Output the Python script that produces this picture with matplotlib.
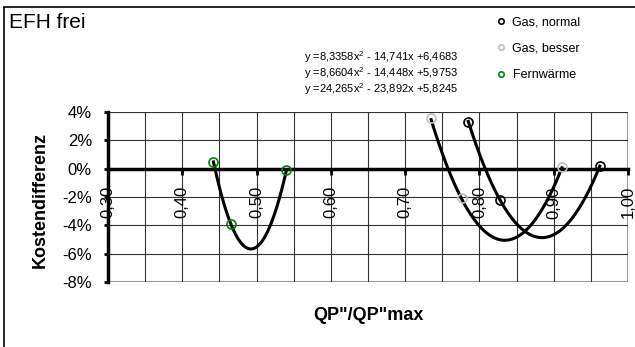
import numpy as np
import matplotlib
matplotlib.use("Agg")
import matplotlib.pyplot as plt
from matplotlib.ticker import MultipleLocator, FuncFormatter, PercentFormatter
from matplotlib.patches import Rectangle

plt.rcParams['font.family'] = ['Liberation Sans', 'DejaVu Sans']
plt.rcParams['mathtext.fontset'] = 'custom'
plt.rcParams['mathtext.rm'] = 'Liberation Sans'
plt.rcParams['mathtext.default'] = 'regular'
plt.rcParams['axes.unicode_minus'] = False

# data
series_names = ["Gas, normal", "Gas, besser", "Fernwärme"]
series_colors = ["black", "#c0c0c0", "#008000"]

gas_normal_x = [0.785, 0.828, 0.962]
gas_normal_y = [0.033, -0.022, 0.002]
gas_besser_x = [0.735, 0.776, 0.911]
gas_besser_y = [0.036, -0.021, 0.001]
fernwaerme_x = [0.442, 0.465, 0.540]
fernwaerme_y = [0.005, -0.039, -0.001]

# trendline coefficients (a, b, c) as printed
gas_normal_fit = [8.3358, -14.741, 6.4683]
gas_besser_fit = [8.6604, -14.448, 5.9753]
fernwaerme_fit = [24.265, -23.892, 5.8245]

xs = [gas_normal_x, gas_besser_x, fernwaerme_x]
ys = [gas_normal_y, gas_besser_y, fernwaerme_y]
fits = [gas_normal_fit, gas_besser_fit, fernwaerme_fit]

fig = plt.figure(figsize=(6.35, 3.47), dpi=100)
ax = fig.add_axes([108/635, 1-282/347, 520/635, 170/347])

ax.set_xlim(0.30, 1.00)
ax.set_ylim(-0.08, 0.04)
ax.xaxis.set_major_locator(MultipleLocator(0.1))
ax.xaxis.set_minor_locator(MultipleLocator(0.05))
ax.yaxis.set_major_locator(MultipleLocator(0.02))
ax.xaxis.set_major_formatter(FuncFormatter(lambda v, p: f"{v:.2f}".replace(".", ",")))
ax.yaxis.set_major_formatter(PercentFormatter(1.0, decimals=0))

ax.grid(True, which='both', color='#333333', lw=0.8)
ax.set_axisbelow(True)

for s in ['top', 'right']:
    ax.spines[s].set_visible(False)
ax.spines['bottom'].set_position(('data', 0))
ax.spines['bottom'].set_linewidth(2.5)
ax.spines['left'].set_linewidth(2.5)
ax.add_patch(Rectangle((0, 0), 1, 1, transform=ax.transAxes, fill=False,
                       ec='#a0a0a0', lw=1.5, zorder=0.5))

ax.tick_params(axis='x', which='major', direction='out', length=4, width=2,
               pad=8.6, labelsize=12, labelrotation=90)
ax.tick_params(axis='x', which='minor', length=0)
ax.tick_params(axis='y', direction='out', length=3, width=2, pad=8.6, labelsize=12)

for x, y, f, col, name in zip(xs, ys, fits, series_colors, series_names):
    xx = np.linspace(min(x), max(x), 200)
    ax.plot(xx, np.polyval(f, xx), color='black', lw=2.2, zorder=3)
    ax.plot(x, y, 'o', ms=6.5, mfc='none', mec=col, mew=1.2, zorder=4, label=name)

# trendline equations
def fmt(v):
    return f"{abs(v):.5g}".replace(".", ",")

for i, f in enumerate(fits):
    txt = f"y ={fmt(f[0])}x$^2$ - {fmt(f[1])}x +{fmt(f[2])}"
    fig.text(458/635, 1-(57+16*i)/347, txt, fontsize=8, ha='right', va='center')

leg = ax.legend(loc='upper left', bbox_to_anchor=(490/635, 1-10/347),
                bbox_transform=fig.transFigure, frameon=False, fontsize=9,
                handlelength=0.8, handletextpad=0.5, labelspacing=1.15,
                borderpad=0, markerscale=0.6)

fig.text(9/635, 1-22/347, "EFH frei", fontsize=15, va='center', ha='left')
fig.text(40/635, 1-200/347, "Kostendifferenz", fontsize=13, fontweight='bold',
         rotation=90, ha='center', va='center')
fig.text(368/635, 1-316/347, 'QP"/QP"max', fontsize=13, fontweight='bold',
         ha='center', va='center')

fig.patches.append(Rectangle((4/635, -0.1), 1.2, 1-7/347+0.1, transform=fig.transFigure,
                             fill=False, ec='black', lw=1.2))

fig.savefig("out.png", dpi=100)
